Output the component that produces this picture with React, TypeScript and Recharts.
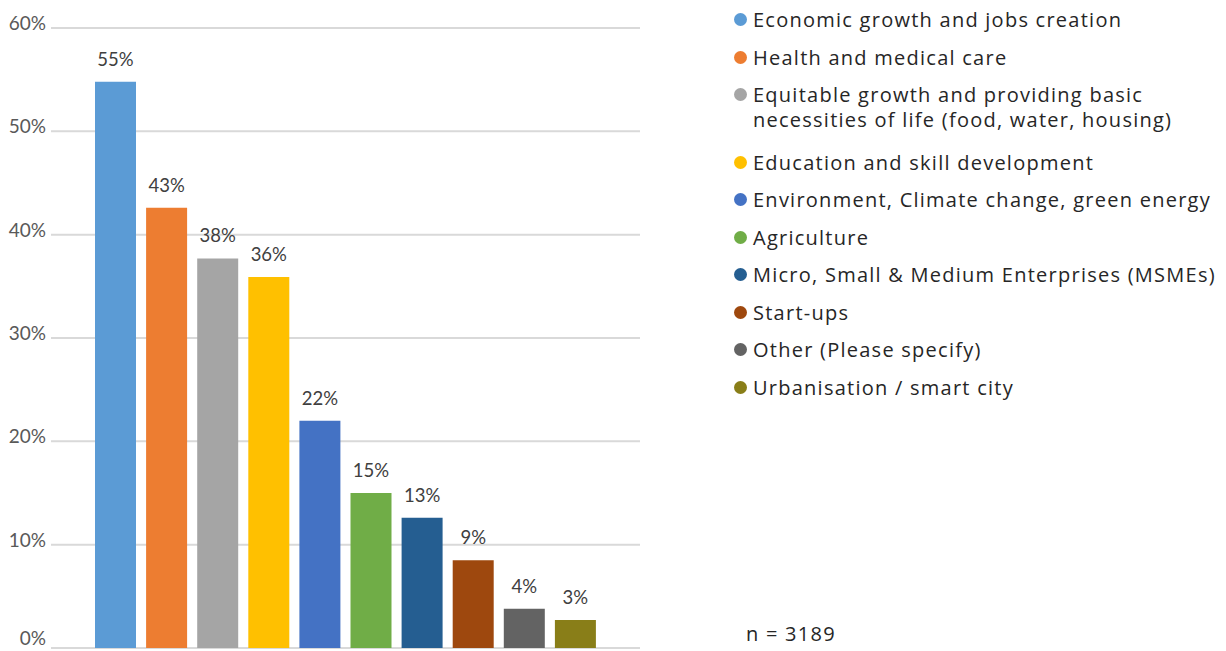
import { BarChart, Bar, Cell, XAxis, YAxis, CartesianGrid, LabelList } from "recharts";

const CATEGORIES = [
  "Economic growth and jobs creation",
  "Health and medical care",
  "Equitable growth and providing basic\nnecessities of life (food, water, housing)",
  "Education and skill development",
  "Environment, Climate change, green energy",
  "Agriculture",
  "Micro, Small & Medium Enterprises (MSMEs)",
  "Start-ups",
  "Other (Please specify)",
  "Urbanisation / smart city",
];

const SHARES = [54.8, 42.6, 37.7, 35.9, 22.0, 15.0, 12.6, 8.5, 3.8, 2.7];

const COLORS = [
  "#5B9BD5", "#ED7D31", "#A5A5A5", "#FFC000", "#4472C4",
  "#70AD47", "#255E91", "#9E480E", "#636363", "#897E18",
];

const Y_TICKS = [0, 10, 20, 30, 40, 50, 60];
const SAMPLE_SIZE = 3189;

const data = CATEGORIES.map((name, i) => ({ name, share: SHARES[i] }));

const legendFont = {
  fontFamily: "'Open Sans'",
  fontSize: 20,
  letterSpacing: 1.25,
  color: "#262626",
};

function PercentTick({ x, y, payload }: { x?: number; y?: number; payload?: { value: number } }) {
  // the 0% label sits on the bottom edge, lift it a bit so it is not clipped
  const dy = payload?.value === 0 ? -3 : 2;
  return (
    <text x={x} y={y} dy={dy} textAnchor="end" fill="#595959" fontSize={19} fontFamily="Lato">
      {payload?.value}%
    </text>
  );
}

function LegendList() {
  return (
    <div style={{ ...legendFont, lineHeight: "25px", position: "absolute", left: 734, top: 7 }}>
      {CATEGORIES.map((name, i) => (
        <div
          key={name}
          style={{
            display: "flex",
            alignItems: "flex-start",
            marginBottom: name.includes("\n") ? 17.5 : 12.5,
          }}
        >
          <span
            style={{
              width: 13,
              height: 13,
              borderRadius: "50%",
              background: COLORS[i],
              marginTop: 6,
              marginRight: 6,
              flexShrink: 0,
            }}
          />
          <span style={{ whiteSpace: "pre-line" }}>{name}</span>
        </div>
      ))}
    </div>
  );
}

export default function App() {
  return (
    <div style={{ position: "absolute", left: 0, top: 0, width: 1226, height: 651, background: "#fff" }}>
      <BarChart
        width={1226}
        height={651}
        data={data}
        margin={{ top: 28, right: 586, bottom: 3, left: 0 }}
      >
        <CartesianGrid vertical={false} stroke="#d9d9d9" strokeWidth={2} />
        <XAxis dataKey="name" hide padding={{ left: 39, right: 39 }} />
        <YAxis
          domain={[0, 60]}
          ticks={Y_TICKS}
          interval={0}
          width={51}
          axisLine={false}
          tickLine={false}
          tickSize={3}
          tickMargin={2}
          tick={<PercentTick />}
        />
        <Bar dataKey="share" barSize={41} isAnimationActive={false}>
          {data.map((d, i) => (
            <Cell key={d.name} fill={COLORS[i]} />
          ))}
          <LabelList
            dataKey="share"
            position="top"
            offset={16}
            formatter={(v: any) => `${Math.round(Number(v))}%`}
            fill="#404040"
            fontSize={18.5}
            fontFamily="Lato"
          />
        </Bar>
      </BarChart>
      <LegendList />
      <div style={{ ...legendFont, position: "absolute", left: 746, top: 620 }}>
        n = {SAMPLE_SIZE}
      </div>
    </div>
  );
}
